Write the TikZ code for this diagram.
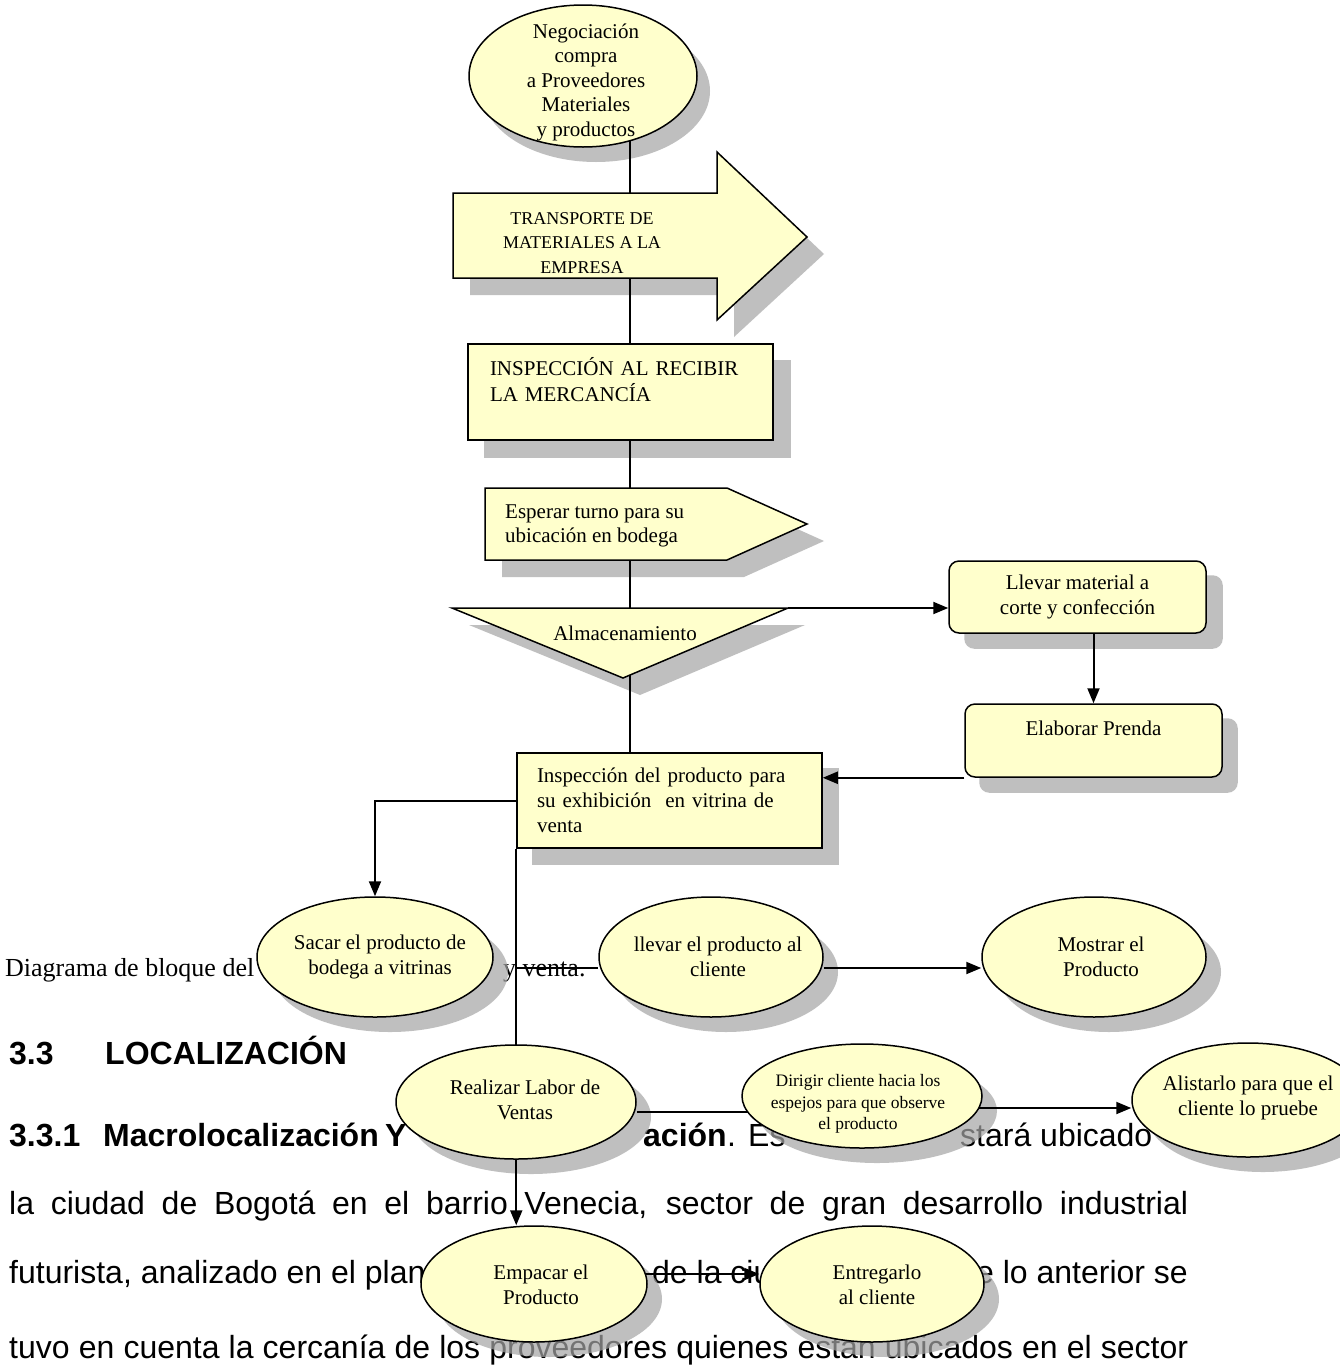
\documentclass[tikz,border=0pt]{standalone}
\usepackage{fontspec}
\setmainfont{Liberation Serif}
\newfontfamily\arialf{Liberation Sans}
\usetikzlibrary{shapes.geometric,arrows.meta}
\definecolor{boxfill}{RGB}{255,255,204}
\definecolor{shadowgray}{RGB}{165,165,165}
\pgfdeclarelayer{pagetext}
\pgfdeclarelayer{shadows}
\pgfdeclarelayer{links}
\pgfsetlayers{pagetext,shadows,links,main}

\begin{document}
\begin{tikzpicture}[x=1pt,y=-1pt,
  yellowshape/.style={draw, fill=boxfill, line width=1.5pt},
  oval/.style={yellowshape, ellipse, inner sep=0pt},
  card/.style={yellowshape, rectangle, inner sep=0pt},
  roundcard/.style={card, rounded corners=10pt},
  lbl/.style={inner sep=0pt, align=center, font=\fontsize{21}{24.5}\selectfont},
  castshadow/.style={fill=shadowgray, fill opacity=0.7},
  spine/.style={line width=1.2pt},
  wire/.style={line width=2pt},
  flow/.style={wire, -{Triangle[length=15pt,width=12pt]}},
  pagefont/.style={inner sep=0pt, anchor=base west, font=\arialf\fontsize{32}{38}\selectfont},
  pagebold/.style={pagefont, font=\arialf\bfseries\fontsize{32}{38}\selectfont},
  capfont/.style={inner sep=0pt, anchor=base west, font=\fontsize{26}{31}\selectfont},
]
\useasboundingbox (0,0) rectangle (1340,1366);

% ---------- flow shapes ----------
\node[oval, minimum width=228pt, minimum height=142pt] (nego) at (583,76) {};
\node[lbl] (nego-t) at (586,82) {Negociación\\compra\\a Proveedores\\Materiales\\y productos};

\path[yellowshape] (453,193) -- (717,193) -- (717,152) -- (807,237) -- (717,320) -- (717,278) -- (453,278) -- cycle;
\node[lbl, font=\fontsize{18}{24.5}\selectfont] (trans) at (582,243) {TRANSPORTE DE\\MATERIALES A LA\\EMPRESA};

\node[card, minimum width=305pt, minimum height=96pt, inner xsep=22pt, text width=261pt,
      align=left, font=\fontsize{21}{26}\selectfont] (insp1) at (620.5,392) {INSPECCIÓN AL RECIBIR\\LA MERCANCÍA\\\mbox{}};

\path[yellowshape] (485,488) -- (727,488) -- (807,524) -- (727,560) -- (485,560) -- cycle;
\node[lbl, align=left, anchor=west, font=\fontsize{21}{24}\selectfont] (wait) at (505,526) {Esperar turno para su\\ubicación en bodega};

\path[yellowshape] (452,608) -- (788,608) -- (623,678) -- cycle;
\coordinate (alm-ne) at (788,608);
\node[lbl] (alm) at (625,633) {Almacenamiento};

\node[roundcard, lbl, minimum width=257pt, minimum height=72pt] (llev) at (1077.5,597) {Llevar material a\\corte y confección};
\node[roundcard, lbl, minimum width=257pt, minimum height=73pt] (elab) at (1093.5,740.5) {Elaborar Prenda\\\mbox{}};

\node[card, minimum width=305pt, minimum height=95pt, inner xsep=20pt, text width=265pt,
      align=left, font=\fontsize{21}{25}\selectfont] (insp2) at (669.5,800.5) {Inspección del producto para\\su exhibición\ \ en vitrina de\\venta};

\coordinate (spinex) at (630,0);

% first row of ovals
\node[oval, minimum width=236pt, minimum height=120pt] (sacar) at (375,957) {};
\node[lbl] (sacar-t) at (380,957) {Sacar el producto de\\bodega a vitrinas};
\node[oval, minimum width=224pt, minimum height=120pt] (take) at (711,957) {};
\node[lbl] (take-t) at (718,957) {llevar el producto al\\cliente};
\node[oval, minimum width=224pt, minimum height=120pt] (show) at (1094,957) {};
\node[lbl] (show-t) at (1101,957) {Mostrar el\\Producto};

% second row
\node[oval, minimum width=240pt, minimum height=114pt] (sell) at (516,1102) {};
\node[lbl] (sell-t) at (525,1100) {Realizar Labor de\\Ventas};
\node[oval, minimum width=240pt, minimum height=104pt] (guide) at (862,1096) {};
\node[lbl, font=\fontsize{17.5}{21.5}\selectfont] (guide-t) at (858,1104) {Dirigir cliente hacia los\\espejos para que observe\\el producto};
\node[oval, minimum width=232pt, minimum height=114pt] (alis) at (1248,1100) {};
\node[lbl] (alis-t) at (1248,1098) {Alistarlo para que el\\cliente lo pruebe};

% third row
\node[oval, minimum width=226pt, minimum height=116pt] (pack) at (534,1284) {};
\node[lbl] (pack-t) at (541,1285) {Empacar el\\Producto};
\node[oval, minimum width=224pt, minimum height=116pt] (give) at (872,1284) {};
\node[lbl] (give-t) at (877,1285) {Entregarlo\\al cliente};

% ---------- page text behind the chart ----------
\begin{pgfonlayer}{pagetext}
  \fill[white] (0,0) rectangle (1340,1366);
  \node[capfont] (cap-a) at (5,976) {Diagrama de bloque del};
  \node[capfont] (cap-b) at (503,976) {y venta.};
  \node[pagebold] (sec-n) at (9,1064) {3.3};
  \node[pagebold] (sec-t) at (105,1064) {LOCALIZACIÓN};
  \node[pagebold] (sub-n) at (9,1146) {3.3.1};
  \node[pagebold] (sub-t) at (103,1146) {Macrolocalización};
  \node[pagebold] (sub-y) at (385,1146) {Y};
  \node[pagebold] (sub-end) at (643,1146) {ación};
  \node[pagefont] (dot) at (727,1146) {.};
  \node[pagefont] (es) at (748,1146) {Es};
  \node[pagefont] (ubic) at (960,1146) {stará ubicado};
  \node[pagefont] (line-b) at (9,1214) {\makebox[1179pt][s]{la ciudad de Bogotá en el barrio Venecia, sector de gran desarrollo industrial}};
  \node[pagefont] (line-c1) at (9,1283) {futurista, analizado en el plan};
  \node[pagefont] (line-c2) at (652,1283) {de la ciu};
  \node[pagefont, anchor=base east] (line-c3) at (1188,1283) {e lo anterior se};
  \node[pagefont] (line-d) at (9,1358) {\makebox[1179pt][s]{tuvo en cuenta la cercanía de los proveedores quienes están ubicados en el sector}};
\end{pgfonlayer}

% ---------- shadows ----------
\begin{pgfonlayer}{shadows}
  \fill[castshadow] ([shift={(13,15)}]nego.center) ellipse [x radius=114pt, y radius=71pt];
  \begin{scope}[shift={(17,17)}]
    \fill[castshadow] (453,193) -- (717,193) -- (717,152) -- (807,237) -- (717,320) -- (717,278) -- (453,278) -- cycle;
    \fill[castshadow] (485,488) -- (727,488) -- (807,524) -- (727,560) -- (485,560) -- cycle;
    \fill[castshadow] (452,608) -- (788,608) -- (623,678) -- cycle;
  \end{scope}
  \fill[castshadow] ([shift={(17,17)}]insp1.south west) rectangle ([shift={(17,17)}]insp1.north east);
  \fill[castshadow] ([shift={(16,16)}]insp2.south west) rectangle ([shift={(16,16)}]insp2.north east);
  \fill[castshadow, rounded corners=10pt] ([shift={(16,15)}]llev.south west) rectangle ([shift={(16,15)}]llev.north east);
  \fill[castshadow, rounded corners=10pt] ([shift={(15,15)}]elab.south west) rectangle ([shift={(15,15)}]elab.north east);
  \fill[castshadow] ([shift={(15,15)}]sacar.center) ellipse [x radius=118pt, y radius=60pt];
  \fill[castshadow] ([shift={(15,15)}]take.center) ellipse [x radius=112pt, y radius=60pt];
  \fill[castshadow] ([shift={(15,15)}]show.center) ellipse [x radius=112pt, y radius=60pt];
  \fill[castshadow] ([shift={(15,15)}]sell.center) ellipse [x radius=120pt, y radius=57pt];
  \fill[castshadow] ([shift={(15,15)}]guide.center) ellipse [x radius=120pt, y radius=52pt];
  \fill[castshadow] ([shift={(15,15)}]alis.center) ellipse [x radius=116pt, y radius=57pt];
  \fill[castshadow] ([shift={(15,15)}]pack.center) ellipse [x radius=113pt, y radius=58pt];
  \fill[castshadow] ([shift={(15,15)}]give.center) ellipse [x radius=112pt, y radius=58pt];
\end{pgfonlayer}

% ---------- connectors ----------
\begin{pgfonlayer}{links}
  \draw[spine] (nego.center -| spinex) -- (insp2.north -| spinex);
  \draw[flow] (alm-ne) -- (alm-ne -| llev.west);
  \draw[flow] (llev.south -| elab.north) -- (elab.north);
  \draw[flow] (elab.south west) -- (elab.south west -| insp2.east);
  \draw[flow] (insp2.west) -| (sacar.north);
  \draw[flow] (insp2.south west) -- (insp2.south west |- pack.north);
  \draw[wire] ([yshift=-11pt]take.west -| insp2.south west) -- ([yshift=-11pt]take.west);
  \draw[flow] ([yshift=-11pt]take.east) -- ([yshift=-11pt]show.west);
  \draw[wire] ([yshift=-10pt]sell.east) -- ([yshift=-10pt]sell.east -| guide.center);
  \draw[flow] ([yshift=-8pt]alis.west -| guide.center) -- ([yshift=-8pt]alis.west);
  \draw[flow] ([yshift=10pt]give.west -| pack.center) -- ([yshift=10pt]give.west);
\end{pgfonlayer}
\end{tikzpicture}
\end{document}
